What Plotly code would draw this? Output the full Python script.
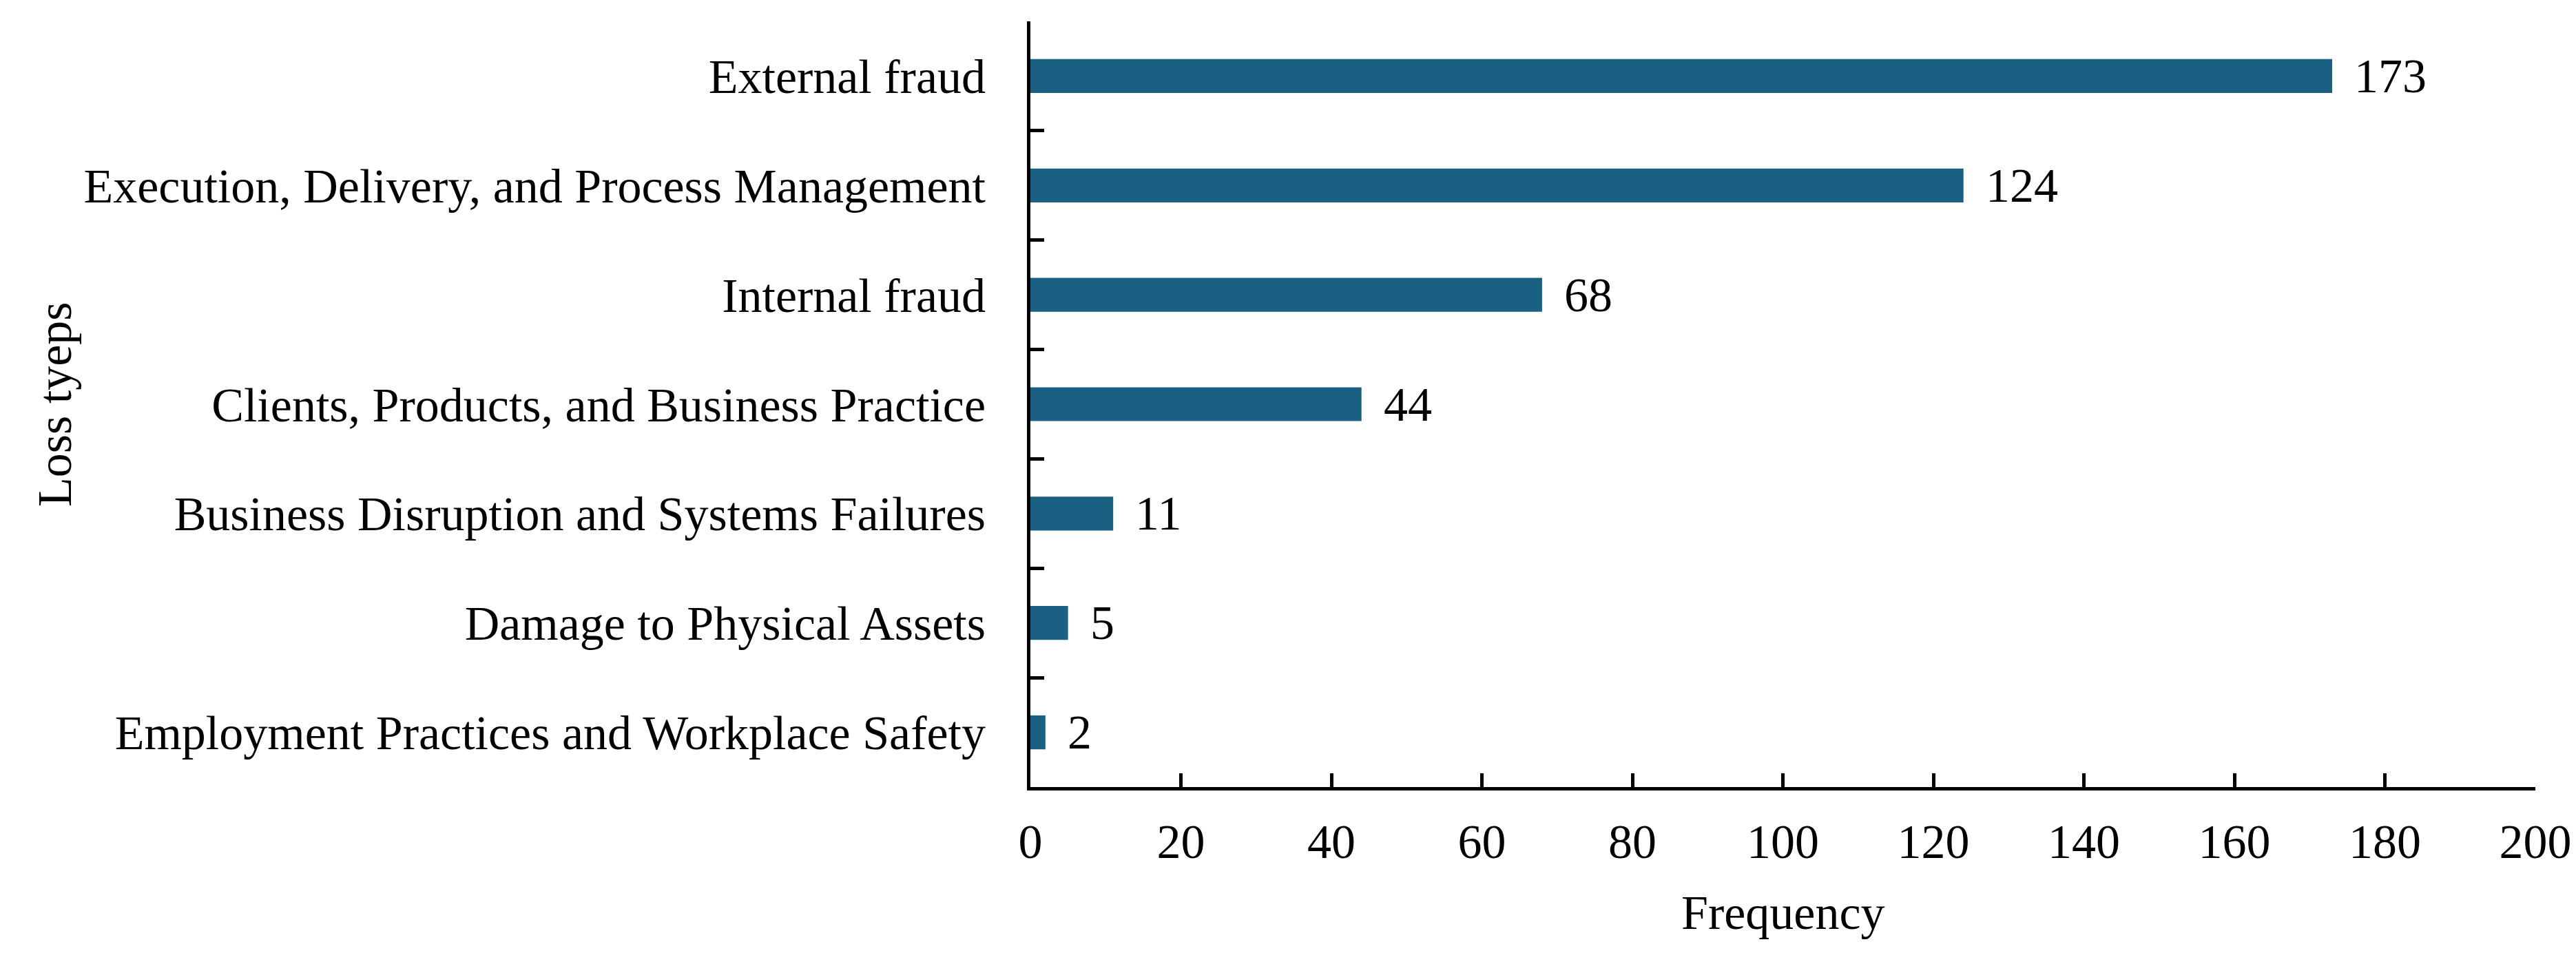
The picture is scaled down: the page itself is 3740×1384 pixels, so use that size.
import plotly.graph_objects as go

categories = [
    "External fraud",
    "Execution, Delivery, and Process Management",
    "Internal fraud",
    "Clients, Products, and Business Practice",
    "Business Disruption and Systems Failures",
    "Damage to Physical Assets",
    "Employment Practices and Workplace Safety",
]
frequency = [173, 124, 68, 44, 11, 5, 2]
x_ticks = [0, 20, 40, 60, 80, 100, 120, 140, 160, 180, 200]

FONT = "Liberation Serif, Times New Roman, serif"
FS = 70
BAR_COLOR = "#1a6082"

fig = go.Figure()
fig.add_trace(go.Bar(
    x=frequency,
    y=categories,
    orientation="h",
    marker=dict(color=BAR_COLOR, line=dict(width=0)),
    showlegend=False,
))

for cat, val in zip(categories, frequency):
    fig.add_annotation(
        x=val, y=cat, xref="x", yref="y",
        text=str(val), showarrow=False,
        xanchor="left", yanchor="middle", xshift=30,
        font=dict(family=FONT, size=FS, color="black"),
    )

fig.update_layout(
    width=3740, height=1384,
    margin=dict(l=1488, r=67, t=23, b=249),
    plot_bgcolor="white", paper_bgcolor="white",
    bargap=0.69,
    font=dict(family=FONT, size=FS, color="black"),
)

fig.update_xaxes(
    range=[0, 200],
    tickvals=x_ticks,
    ticktext=[str(v) for v in x_ticks],
    showline=True, linecolor="black", linewidth=5,
    ticks="inside", ticklen=20, tickwidth=5, tickcolor="black",
    showgrid=False, zeroline=False,
    ticklabelstandoff=14,
    tickfont=dict(family=FONT, size=FS, color="black"),
)
fig.update_yaxes(
    categoryorder="array", categoryarray=categories,
    autorange="reversed",
    showline=True, linecolor="black", linewidth=5,
    ticks="inside", ticklen=20, tickwidth=5, tickcolor="black",
    tickson="boundaries",
    showgrid=False, zeroline=False,
    ticklabelstandoff=46,
    tickfont=dict(family=FONT, size=FS, color="black"),
)

fig.add_annotation(
    x=0.5, y=0, xref="paper", yref="paper",
    text="Frequency", showarrow=False,
    xanchor="center", yanchor="middle", yshift=-182,
    font=dict(family=FONT, size=FS, color="black"),
)
fig.add_annotation(
    x=0, y=0.5, xref="paper", yref="paper",
    text="Loss tyeps", showarrow=False, textangle=-90,
    xanchor="center", yanchor="middle", xshift=-1417,
    font=dict(family=FONT, size=FS, color="black"),
)

fig.write_html("out.html")
